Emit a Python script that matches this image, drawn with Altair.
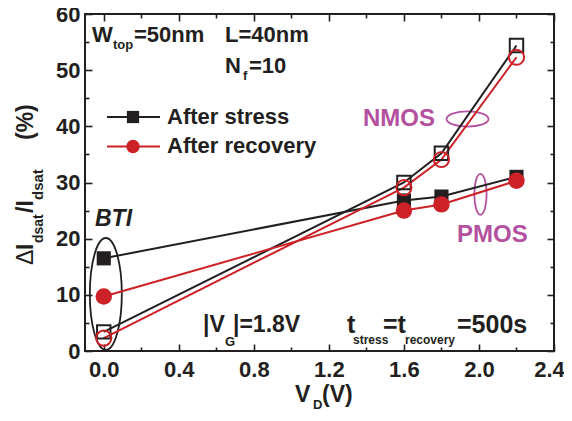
import altair as alt
import pandas as pd

# ---------------- data ----------------
vd = [0.0, 1.6, 1.8, 2.2]
pmos_stress = [16.5, 26.8, 27.5, 31.0]
pmos_recovery = [9.7, 25.0, 26.1, 30.3]
nmos_stress = [3.4, 30.0, 35.2, 54.4]
nmos_recovery = [2.3, 29.1, 34.1, 52.3]

x_major = [0.0, 0.4, 0.8, 1.2, 1.6, 2.0, 2.4]
x_minor = [0.2, 0.6, 1.0, 1.4, 1.8, 2.2]
y_major = [0, 10, 20, 30, 40, 50, 60]
y_minor = [5, 15, 25, 35, 45, 55]

bti_ellipse_x = [0.011]
bti_ellipse_y = [10.15]
nmos_ellipse_x = [1.939]
nmos_ellipse_y = [41.3]
pmos_ellipse_x = [2.008]
pmos_ellipse_y = [27.9]

# ---------------- style ----------------
BLACK = "#231f20"
RED = "#cc2127"
MAG = "#b4519f"
FONT = "Liberation Sans"
W, H = 469, 337
OX, OY = 85, 14  # page position of plot origin

xs = alt.Scale(domain=[-0.1, 2.4], nice=False, zero=False)
ys = alt.Scale(domain=[0, 60], nice=False, zero=False)
one = pd.DataFrame({"k": [0]})


def ax(orient, values, size, labels=False, **kw):
    return alt.Axis(orient=orient, values=values, labels=labels, domain=False,
                    ticks=True, tickSize={"expr": str(-size)}, tickWidth=1.6,
                    tickColor=BLACK, grid=False, title=None, labelFont=FONT,
                    labelFontSize=22, labelFontWeight="bold", labelColor=BLACK,
                    labelFlush=False, labelOverlap=False, **kw)


d0 = pd.DataFrame({"vd": vd, "val": pmos_stress})


def axis_layer(xaxis, yaxis):
    return alt.Chart(d0).mark_point(opacity=0).encode(
        x=alt.X("vd:Q", scale=xs, axis=xaxis),
        y=alt.Y("val:Q", scale=ys, axis=yaxis))


axes = [
    axis_layer(ax("bottom", x_major, 7, labels=True, format=".1f", labelPadding=15,
                  labelOffset={"condition": {"test": "datum.value > 2.3", "value": -5}, "value": 0}),
               ax("left", y_major, 7, labels=True, format="d", labelPadding=12)),
    axis_layer(ax("bottom", x_minor, 4), ax("left", y_minor, 4)),
    axis_layer(ax("top", x_major, 7), ax("right", y_major, 7)),
    axis_layer(ax("top", x_minor, 4), ax("right", y_minor, 4)),
]


def XY(d):
    return dict(x=alt.X("vd:Q", scale=xs, axis=None),
                y=alt.Y("val:Q", scale=ys, axis=None))


def ellipse(xv, yv, path, size, color):
    d = pd.DataFrame({"vd": xv, "val": yv})
    return alt.Chart(d).mark_point(shape=path, size=size, filled=False, color=color,
                                   strokeWidth=1.8, opacity=1).encode(**XY(d))


ellipses = [
    ellipse(bti_ellipse_x, bti_ellipse_y,
            "M0,-1A0.2857,1,0,1,1,0,1A0.2857,1,0,1,1,0,-1Z", 112 * 112, BLACK),
    ellipse(nmos_ellipse_x, nmos_ellipse_y,
            "M-1,0A1,0.36,0,1,1,1,0A1,0.36,0,1,1,-1,0Z", 42 * 42, MAG),
    ellipse(pmos_ellipse_x, pmos_ellipse_y,
            "M0,-1A0.3,1,0,1,1,0,1A0.3,1,0,1,1,0,-1Z", 41 * 41, MAG),
]


def line(vals, color):
    d = pd.DataFrame({"vd": vd, "val": vals})
    return alt.Chart(d).mark_line(color=color, strokeWidth=2).encode(**XY(d))


def pts(vals, color, shape, filled, size):
    d = pd.DataFrame({"vd": vd, "val": vals})
    return alt.Chart(d).mark_point(shape=shape, filled=filled, color=color, size=size,
                                   strokeWidth=2, opacity=1).encode(**XY(d))


series = [
    line(pmos_stress, BLACK), line(nmos_stress, BLACK),
    line(pmos_recovery, RED), line(nmos_recovery, RED),
    pts(pmos_stress, BLACK, "square", True, 200),
    pts(nmos_stress, BLACK, "square", False, 180),
    pts(pmos_recovery, RED, "circle", True, 270),
    pts(nmos_recovery, RED, "circle", False, 230),
]


def txt(s, px, py, size=22, color=BLACK, weight="bold", style="normal", angle=0):
    return alt.Chart(one).mark_text(
        text=s, font=FONT, fontSize=size, fontWeight=weight, fontStyle=style,
        color=color, align="left", baseline="alphabetic", angle=angle
    ).encode(x=alt.value(px - OX), y=alt.value(py - OY))


def lrule(x1, x2, py, color):
    return alt.Chart(one).mark_rule(color=color, strokeWidth=2).encode(
        x=alt.value(x1 - OX), x2=alt.value(x2 - OX), y=alt.value(py - OY))


def lpt(px, py, color, shape, size):
    return alt.Chart(one).mark_point(shape=shape, filled=True, color=color, size=size,
                                     opacity=1).encode(x=alt.value(px - OX), y=alt.value(py - OY))


legend = [
    lrule(107, 160, 117, BLACK), lpt(133, 117, BLACK, "square", 150),
    lrule(107, 160, 146.5, RED), lpt(133, 146.5, RED, "circle", 180),
    txt("After stress", 167, 124),
    txt("After recovery", 167, 153),
]

texts = [
    txt("W", 92, 42), txt("top", 113, 49, size=13), txt("=50nm", 134, 42),
    txt("L=40nm", 225, 42),
    txt("N", 225, 73), txt("f", 243, 80, size=13), txt("=10", 249, 73),
    txt("NMOS", 363, 126, size=24, color=MAG),
    txt("PMOS", 457, 242, size=24, color=MAG),
    txt("BTI", 95, 226, size=23, style="italic"),
    txt("|V", 203, 332, size=23), txt("G", 225, 346, size=13), txt("|=1.8V", 233, 332, size=23),
    txt("t", 347, 333, size=25), txt("stress", 353, 344, size=12),
    txt("=t", 383, 333, size=25), txt("recovery", 405, 344, size=12),
    txt("=500s", 457, 333, size=25),
    # x title
    txt("V", 295, 402, size=23), txt("D", 313, 409, size=13), txt("(V)", 322, 402, size=23),
    # y title (rotated)
    txt("\u0394", 33, 265, size=23, weight="normal", angle=270),
    txt("I", 33, 250, size=23, angle=270),
    txt("dsat", 43, 243, size=14, angle=270),
    txt("/I", 33, 213, size=23, angle=270),
    txt("dsat", 43, 200, size=15, angle=270),
    txt("(%)", 33, 140, size=23, angle=270),
]

chart = alt.layer(*axes, *ellipses, *series, *legend, *texts).resolve_axis(
    x="independent", y="independent"
).properties(
    width=W, height=H,
    padding={"left": OX - 8, "top": OY - 8, "right": 572 - 8 - OX - W, "bottom": 421 - 8 - OY - H},
    autosize=alt.AutoSizeParams(type="none"),
).configure_view(stroke=BLACK, strokeWidth=2)

chart.save("out.html", embed_options={"renderer": "svg", "actions": False})
